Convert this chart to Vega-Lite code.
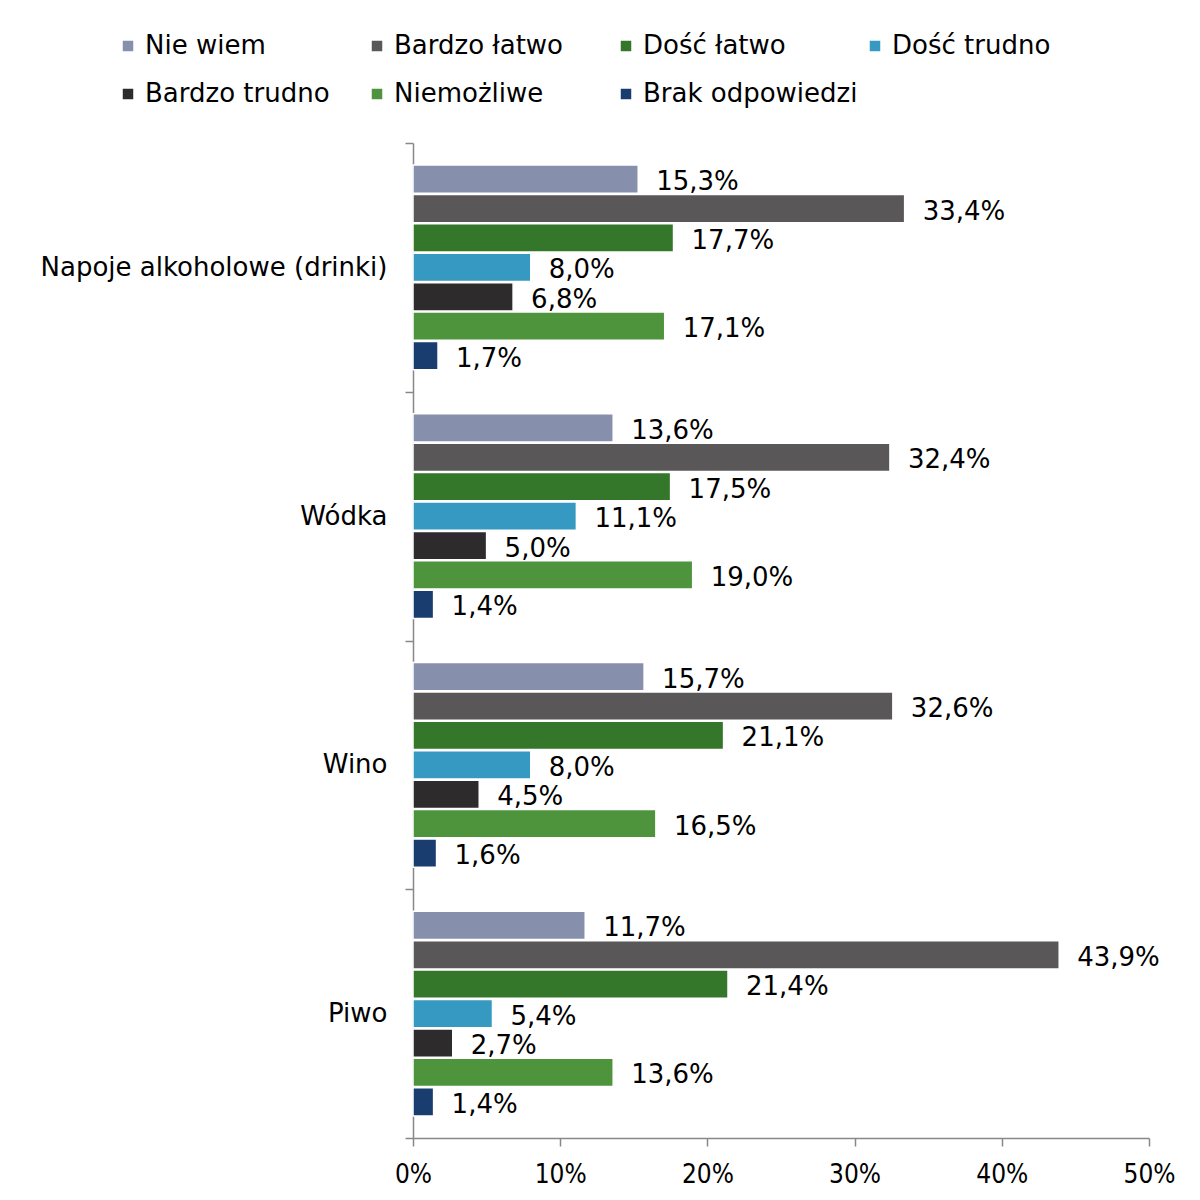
{
  "$schema": "https://vega.github.io/schema/vega-lite/v6.json",
  "autosize": {"type": "none"},
  "width": 736,
  "height": 995,
  "padding": {"left": 413, "top": 143, "right": 51, "bottom": 62},
  "background": "white",
  "config": {
    "view": {"stroke": null},
    "font": "DejaVu Sans",
    "locale": {"number": {"decimal": ",", "thousands": " ", "grouping": [3], "currency": ["", " zł"]}}
  },
  "data": {"values": [
    {"kat": "Napoje alkoholowe (drinki)", "seria": "Nie wiem", "v": 0.153},
    {"kat": "Napoje alkoholowe (drinki)", "seria": "Bardzo łatwo", "v": 0.334},
    {"kat": "Napoje alkoholowe (drinki)", "seria": "Dość łatwo", "v": 0.177},
    {"kat": "Napoje alkoholowe (drinki)", "seria": "Dość trudno", "v": 0.080},
    {"kat": "Napoje alkoholowe (drinki)", "seria": "Bardzo trudno", "v": 0.068},
    {"kat": "Napoje alkoholowe (drinki)", "seria": "Niemożliwe", "v": 0.171},
    {"kat": "Napoje alkoholowe (drinki)", "seria": "Brak odpowiedzi", "v": 0.017},
    {"kat": "Wódka", "seria": "Nie wiem", "v": 0.136},
    {"kat": "Wódka", "seria": "Bardzo łatwo", "v": 0.324},
    {"kat": "Wódka", "seria": "Dość łatwo", "v": 0.175},
    {"kat": "Wódka", "seria": "Dość trudno", "v": 0.111},
    {"kat": "Wódka", "seria": "Bardzo trudno", "v": 0.050},
    {"kat": "Wódka", "seria": "Niemożliwe", "v": 0.190},
    {"kat": "Wódka", "seria": "Brak odpowiedzi", "v": 0.014},
    {"kat": "Wino", "seria": "Nie wiem", "v": 0.157},
    {"kat": "Wino", "seria": "Bardzo łatwo", "v": 0.326},
    {"kat": "Wino", "seria": "Dość łatwo", "v": 0.211},
    {"kat": "Wino", "seria": "Dość trudno", "v": 0.080},
    {"kat": "Wino", "seria": "Bardzo trudno", "v": 0.045},
    {"kat": "Wino", "seria": "Niemożliwe", "v": 0.165},
    {"kat": "Wino", "seria": "Brak odpowiedzi", "v": 0.016},
    {"kat": "Piwo", "seria": "Nie wiem", "v": 0.117},
    {"kat": "Piwo", "seria": "Bardzo łatwo", "v": 0.439},
    {"kat": "Piwo", "seria": "Dość łatwo", "v": 0.214},
    {"kat": "Piwo", "seria": "Dość trudno", "v": 0.054},
    {"kat": "Piwo", "seria": "Bardzo trudno", "v": 0.027},
    {"kat": "Piwo", "seria": "Niemożliwe", "v": 0.136},
    {"kat": "Piwo", "seria": "Brak odpowiedzi", "v": 0.014}
  ]},
  "encoding": {
    "y": {
      "field": "kat", "type": "nominal",
      "sort": ["Napoje alkoholowe (drinki)", "Wódka", "Wino", "Piwo"],
      "scale": {"paddingInner": 0, "paddingOuter": 0},
      "axis": {
        "title": null, "tickBand": "extent", "tickSize": 8, "tickColor": "#888888",
        "domainColor": "#888888", "domainWidth": 1.5, "tickWidth": 1.5,
        "labelFontSize": 26, "labelColor": "#000000", "labelPadding": 18, "labelLimit": 400
      }
    },
    "yOffset": {
      "field": "seria", "type": "nominal",
      "sort": ["Nie wiem", "Bardzo łatwo", "Dość łatwo", "Dość trudno", "Bardzo trudno", "Niemożliwe", "Brak odpowiedzi"],
      "scale": {"paddingInner": 0.04, "paddingOuter": 0.75}
    },
    "x": {
      "field": "v", "type": "quantitative",
      "scale": {"domain": [0, 0.5], "nice": false},
      "axis": {
        "title": null, "format": ".0%", "values": [0, 0.1, 0.2, 0.3, 0.4, 0.5],
        "grid": false, "tickSize": 8, "tickColor": "#888888", "tickWidth": 1.5,
        "domainColor": "#888888", "domainWidth": 1.5, "labelFlush": false, "labelOverlap": false,
        "labelFont": "DejaVu Sans Condensed", "labelFontSize": 26, "labelColor": "#000000", "labelPadding": 15
      }
    }
  },
  "layer": [
    {
      "mark": {"type": "bar", "stroke": "white", "strokeWidth": 1.5},
      "encoding": {
        "color": {
          "field": "seria", "type": "nominal",
          "scale": {
            "domain": ["Nie wiem", "Bardzo łatwo", "Dość łatwo", "Dość trudno", "Bardzo trudno", "Niemożliwe", "Brak odpowiedzi"],
            "range": ["#8690AD", "#595758", "#35772A", "#3699C1", "#2D2B2C", "#4D943D", "#1A3D70"]
          },
          "legend": {
            "title": null, "orient": "none", "legendX": -298, "legendY": -110,
            "direction": "horizontal", "columns": 4, "gridAlign": "all",
            "symbolType": "square", "symbolSize": 110, "symbolStrokeWidth": 0,
            "labelFontSize": 26, "labelColor": "#000000", "labelOffset": 4, "labelLimit": 300,
            "columnPadding": 4, "rowPadding": 22
          }
        }
      }
    },
    {
      "mark": {"type": "text", "align": "left", "baseline": "middle", "dx": 18, "dy": 3, "fontSize": 26, "color": "#000000"},
      "encoding": {
        "text": {"field": "v", "type": "quantitative", "format": ".1%"}
      }
    }
  ]
}
